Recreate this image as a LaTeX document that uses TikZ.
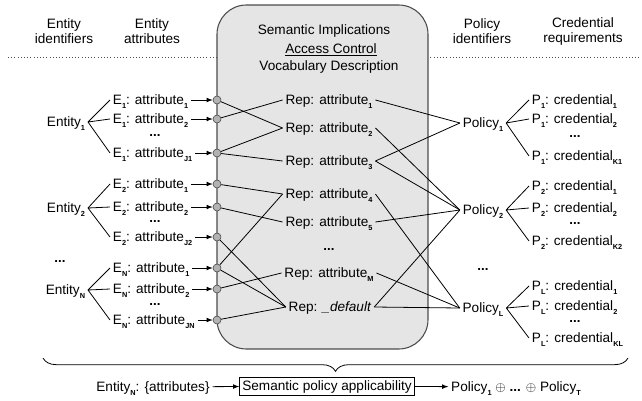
\documentclass[tikz,border=0pt]{standalone}
\usepackage{fontspec}
\setmainfont{Liberation Sans}
\usepackage{tikz}
\usetikzlibrary{decorations.pathreplacing}
\newcommand{\lo}[1]{\raisebox{-0.55ex}{\fontsize{5.5}{6}\selectfont\bfseries #1}}

\begin{document}
\begin{tikzpicture}[x=0.75pt, y=-0.75pt,
    txt/.style={inner sep=2pt, text height=7.5pt, text depth=1pt, font=\fontsize{10.2}{12}\selectfont},
    head/.style={align=center, inner sep=0pt, font=\fontsize{10.2}{11.25}\selectfont},
    leaf/.style={txt, anchor=west},
    panel/.style={rectangle, draw=black!70, fill=black!10, line width=0.8pt, rounded corners=22pt, minimum width=158.25pt, minimum height=258pt},
    port/.style={circle, draw=black!75, fill=black!30, minimum size=6pt, inner sep=0pt},
    link/.style={black, line width=0.6pt},
    arrow/.style={-latex, black, line width=0.6pt},
    dots/.style={inner sep=0pt, font=\bfseries}
]
\useasboundingbox (0,0) rectangle (642,400);
\draw[dotted, black!70] (8,57) -- (640,57);
\node[panel] (vocab) at (322.5,177) {};

% headers
\node[head] (hEid)  at (64,31)  {Entity\\identifiers};
\node[head] (hEatt) at (152,31) {Entity\\attributes};
\node[head] (hPid)  at (482,31) {Policy\\identifiers};
\node[head] (hCred) at (583,31) {Credential\\requirements};
\node[txt] (tSem) at (324,30) {Semantic Implications};
\node[txt] (tAcc) at (331,49) {\underline{Access Control}};
\node[txt] (tVoc) at (329,66) {Vocabulary Description};

% entities and their attributes
\node[txt, anchor=east] (ent1) at (88,122) {Entity\lo{1}};
\node[txt, anchor=east] (ent2) at (88,208) {Entity\lo{2}};
\node[dots] (entd) at (60,262) {...};
\node[txt, anchor=east] (entN) at (88,290) {Entity\lo{N}};

\node[leaf] (a11) at (110,100) {E\lo{1}: attribute\lo{1}};
\node[leaf] (a12) at (110,119) {E\lo{1}: attribute\lo{2}};
\node[dots] (a1d) at (155,136) {...};
\node[leaf] (a1J) at (110,153) {E\lo{1}: attribute\lo{J1}};
\node[leaf] (a21) at (110,184) {E\lo{2}: attribute\lo{1}};
\node[leaf] (a22) at (110,207) {E\lo{2}: attribute\lo{2}};
\node[dots] (a2d) at (155,222) {...};
\node[leaf] (a2J) at (110,237) {E\lo{2}: attribute\lo{J2}};
\node[leaf] (aN1) at (110,268) {E\lo{N}: attribute\lo{1}};
\node[leaf] (aN2) at (110,289) {E\lo{N}: attribute\lo{2}};
\node[dots] (aNd) at (155,305) {...};
\node[leaf] (aNJ) at (110,320) {E\lo{N}: attribute\lo{JN}};

\node[port] (c1) at (217,100) {};
\node[port] (c2) at (217,119) {};
\node[port] (c3) at (217,153) {};
\node[port] (c4) at (217,184) {};
\node[port] (c5) at (217,207) {};
\node[port] (c6) at (217,237) {};
\node[port] (c7) at (217,268) {};
\node[port] (c8) at (217,289) {};
\node[port] (c9) at (217,320) {};

% vocabulary representations
\node[txt] (r1) at (329,100) {Rep: attribute\lo{1}};
\node[txt] (r2) at (329,128) {Rep: attribute\lo{2}};
\node[txt] (r3) at (329,161) {Rep: attribute\lo{3}};
\node[txt] (r4) at (329,194) {Rep: attribute\lo{4}};
\node[txt] (r5) at (329,222) {Rep: attribute\lo{5}};
\node[dots] (rdots) at (329,250) {...};
\node[txt] (rm) at (329,273) {Rep: attribute\lo{M}};
\node[txt] (rd) at (330,307) {Rep: \textit{\_default}};

% policies and credentials
\node[txt] (pol1) at (483,123) {Policy\lo{1}};
\node[txt] (pol2) at (483,210) {Policy\lo{2}};
\node[dots] (pold) at (483,270) {...};
\node[txt] (polL) at (483,308) {Policy\lo{L}};

\node[leaf] (q11) at (529,100) {P\lo{1}: credential\lo{1}};
\node[leaf] (q12) at (529,119) {P\lo{1}: credential\lo{2}};
\node[dots] (q1d) at (575,137) {...};
\node[leaf] (q1K) at (529,156) {P\lo{1}: credential\lo{K1}};
\node[leaf] (q21) at (529,186) {P\lo{2}: credential\lo{1}};
\node[leaf] (q22) at (529,208) {P\lo{2}: credential\lo{2}};
\node[dots] (q2d) at (575,224) {...};
\node[leaf] (q2K) at (529,241) {P\lo{2}: credential\lo{K2}};
\node[leaf] (qL1) at (529,286) {P\lo{L}: credential\lo{1}};
\node[leaf] (qL2) at (529,306) {P\lo{L}: credential\lo{2}};
\node[dots] (qLd) at (575,322) {...};
\node[leaf] (qLK) at (529,338) {P\lo{L}: credential\lo{KL}};

% fans
\draw[link] (ent1.east) -- (a11.west) (ent1.east) -- (a12.west) (ent1.east) -- (a1J.west);
\draw[link] (ent2.east) -- (a21.west) (ent2.east) -- (a22.west) (ent2.east) -- (a2J.west);
\draw[link] (entN.east) -- (aN1.west) (entN.east) -- (aN2.west) (entN.east) -- (aNJ.west);
\draw[link] (pol1.east) -- (q11.west) (pol1.east) -- (q12.west) (pol1.east) -- (q1K.west);
\draw[link] (pol2.east) -- (q21.west) (pol2.east) -- (q22.west) (pol2.east) -- (q2K.west);
\draw[link] (polL.east) -- (qL1.west) (polL.east) -- (qL2.west) (polL.east) -- (qLK.west);

% attributes into the ports
\draw[arrow] (a11) -- (c1);
\draw[arrow] (a12) -- (c2);
\draw[arrow] (a1J) -- (c3);
\draw[arrow] (a21) -- (c4);
\draw[arrow] (a22) -- (c5);
\draw[arrow] (a2J) -- (c6);
\draw[arrow] (aN1) -- (c7);
\draw[arrow] (aN2) -- (c8);
\draw[arrow] (aNJ) -- (c9);

% ports to representations
\draw[link] (c1) -- (r2.west);
\draw[link] (c2) -- (r1.west);
\draw[link] (c3) -- (r2.west);
\draw[link] (c3) -- (r3.west);
\draw[link] (c4) -- (r4.west);
\draw[link] (c5) -- (r5.west);
\draw[link] (c6) -- (rd.west);
\draw[link] (c7) -- (r4.west);
\draw[link] (c7) -- (rd.west);
\draw[link] (c8) -- (rm.west);
\draw[link] (c9) -- (rd.west);

% representations to policies
\draw[link] (r1.east) -- (pol1.west);
\draw[link] (r2.east) -- (pol2.west);
\draw[link] (r3.east) -- (pol1.west);
\draw[link] (r3.east) -- (pol2.west);
\draw[link] (r4.east) -- (polL.west);
\draw[link] (r5.east) -- (pol2.west);
\draw[link] (rm.east) -- (polL.west);
\draw[link] (rd.east) -- (pol2.west);
\draw[link] (rd.east) -- (polL.west);

% summary
\coordinate (bl) at (43,358);
\coordinate (br) at (628,358);
\draw[link, decorate, decoration={brace, mirror, amplitude=10pt}] (bl) -- (br);
\node[txt] (inp) at (153,387) {Entity\lo{N}: \{attributes\}};
\node[txt, draw, line width=0.6pt, minimum height=13.5pt] (spa) at (327,386) {Semantic policy applicability};
\node[txt] (outp) at (516,387) {Policy\lo{1} $\oplus$ \textbf{...} $\oplus$ Policy\lo{T}};
\draw[arrow] (inp) -- (spa);
\draw[arrow] (spa) -- (outp);
\end{tikzpicture}
\end{document}
